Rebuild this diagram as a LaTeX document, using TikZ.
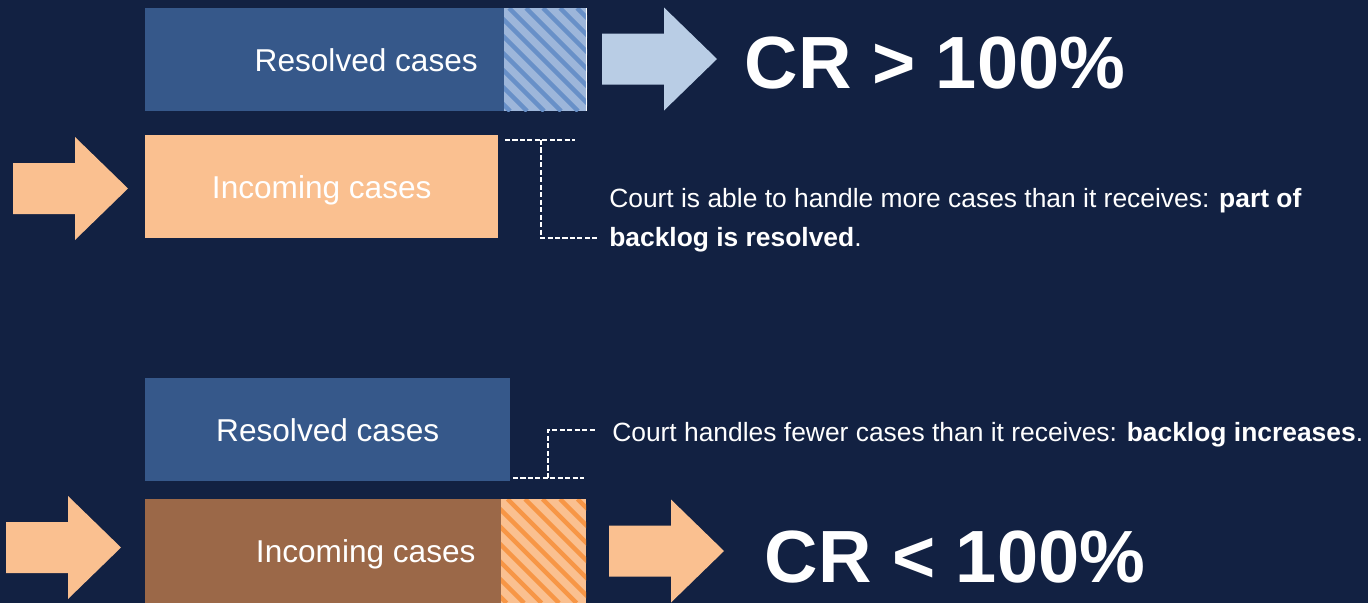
\documentclass[tikz,border=0pt]{standalone}
\usepackage{fontspec}
\setmainfont{Liberation Sans}
\usetikzlibrary{calc}

\definecolor{bgnavy}{HTML}{122142}
\definecolor{resblue}{HTML}{36588A}
\definecolor{hatchblue}{HTML}{9DB6DA}
\definecolor{stripeblue}{HTML}{6890C8}
\definecolor{arrblue}{HTML}{B9CDE5}
\definecolor{incorange}{HTML}{FAC090}
\definecolor{stripeorange}{HTML}{F79646}
\definecolor{incbrown}{HTML}{9B6848}

\begin{document}
\begin{tikzpicture}[
  x=0.75pt, y=-0.75pt,
  bar/.style={rectangle, anchor=north west, inner sep=0, text=white, text depth=0pt, minimum height=77.25pt, font=\fontsize{23.7}{28}\selectfont},
  resolved/.style={bar, fill=resblue},
  incoming/.style={bar, fill=incorange},
  shrunk/.style={bar, fill=incbrown},
  note/.style={anchor=north west, inner sep=0, align=left, text=white, font=\fontsize{19.8}{29.25}\selectfont},
  ratio/.style={anchor=base, inner sep=0, text=white, font=\fontsize{55.5}{60}\selectfont\bfseries},
  guide/.style={draw=white, line width=2pt, dash pattern=on 3.8pt off 1.8pt},
  stripes/.style={line width=3.4pt},
  barrow/.pic={\fill[#1] (0,-25.5) -- (62,-25.5) -- (62,-51.5) -- (115,0) -- (62,51.5) -- (62,25.5) -- (0,25.5) -- cycle;}
]
\useasboundingbox (0,0) rectangle (1368,603);
\fill[bgnavy] (0,0) rectangle (1368,603);

% CR > 100%
\node[resolved, minimum width=331.5pt] (resA) at (145,8) {Resolved cases};
\begin{scope}
  \clip (504,8) rectangle (587,111);
  \fill[hatchblue] (504,8) rectangle (587,111);
  \foreach \sx in {390,407,...,600}
    \draw[stripes, stripeblue] (\sx,8) -- ++(103,103);
\end{scope}
\draw[white, line width=0.75pt] (586.5,8) -- (586.5,111);
\node[incoming, minimum width=264.75pt] (inA) at (145,135) {Incoming cases};
\pic at (602,59) {barrow=arrblue};
\pic at (13,188.5) {barrow=incorange};
\node[ratio] (crA) at (935,88) {CR > 100\%};
\node[note] (noteA) at (609,188) {Court is able to handle more cases than it receives: \textbf{part of}\\\textbf{backlog is resolved}.};

\coordinate (gA1) at (505,140);
\coordinate (gA2) at (575,140);
\coordinate (gAm) at (541,140);
\coordinate (gAe) at (598,238);
\draw[guide] (gA1) -- (gA2);
\draw[guide] (gAm) |- (gAe);

% CR < 100%
\node[resolved, minimum width=273.75pt] (resB) at (145,378) {Resolved cases};
\node[shrunk, minimum width=330.75pt, minimum height=78pt] (inB) at (145,499) {Incoming cases};
\begin{scope}
  \clip (501,499) rectangle (586,603);
  \fill[incorange] (501,499) rectangle (586,603);
  \foreach \sx in {385,402.5,...,600}
    \draw[stripes, stripeorange] (\sx,499) -- ++(104,104);
\end{scope}
\pic at (6,547.5) {barrow=incorange};
\pic at (609,551) {barrow=incorange};
\node[ratio] (crB) at (955,582) {CR < 100\%};
\node[note, anchor=base west] (noteB) at (612,441.5) {Court handles fewer cases than it receives: \textbf{backlog increases}.};

\coordinate (gB1) at (513,478);
\coordinate (gB2) at (584,478);
\coordinate (gBm) at (548,478);
\coordinate (gBe) at (595,430);
\draw[guide] (gB1) -- (gB2);
\draw[guide] (gBm) |- (gBe);
\end{tikzpicture}
\end{document}
